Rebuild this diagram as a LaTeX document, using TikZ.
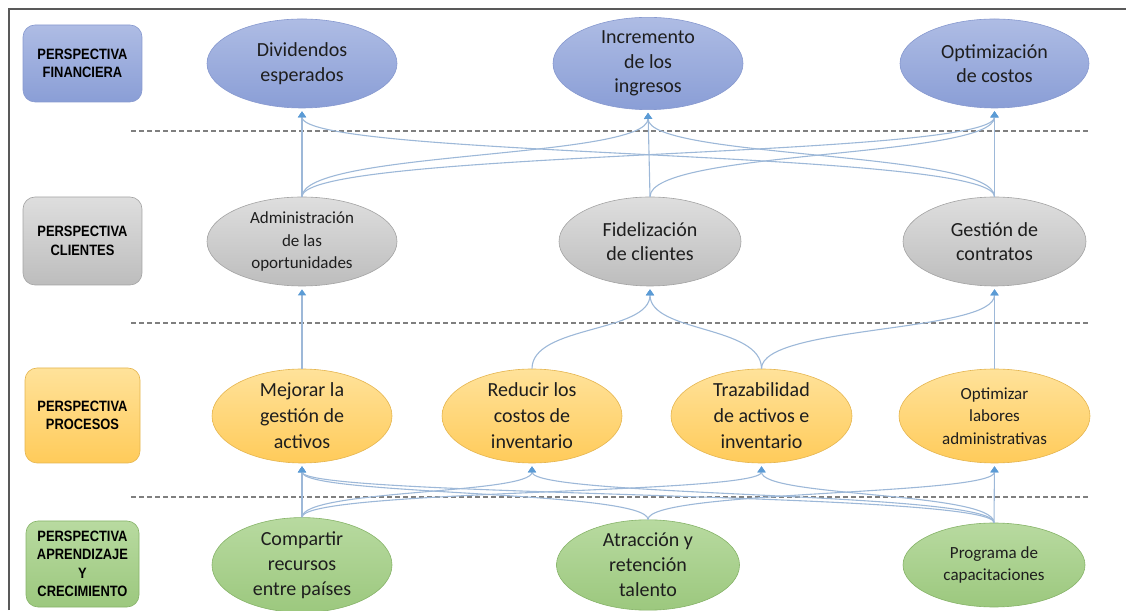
\documentclass[tikz,border=0pt]{standalone}
\usepackage{fontspec}
\setmainfont{Carlito}
\newfontfamily\tagfont[FakeStretch=0.86]{Liberation Sans}
\usetikzlibrary{shapes.geometric,arrows.meta,calc}

\definecolor{finTop}{HTML}{AEBCE4}
\definecolor{finBot}{HTML}{8A9ED6}
\definecolor{finLine}{HTML}{8799CF}
\definecolor{cliTop}{HTML}{DEDEDE}
\definecolor{cliBot}{HTML}{BDBDBD}
\definecolor{cliLine}{HTML}{A3A3A3}
\definecolor{proTop}{HTML}{FFE29A}
\definecolor{proBot}{HTML}{FFCB5A}
\definecolor{proLine}{HTML}{E5B54F}
\definecolor{aprTop}{HTML}{B8DAA0}
\definecolor{aprBot}{HTML}{9CC87E}
\definecolor{aprLine}{HTML}{86B368}
\definecolor{linkBlue}{HTML}{9DB8D8}
\definecolor{tipBlue}{HTML}{5B9BD5}
\definecolor{sepGray}{HTML}{7F7F7F}
\definecolor{frameGray}{HTML}{595959}
\definecolor{ink}{HTML}{1E1E1E}

% curved connector: leaves the source top vertically, runs flat halfway up,
% then climbs vertically into the bottom of the target
\newcommand\curvelink[2]{%
  \draw[link] let \p1=(#1.north), \p2=($(#2.south)+(0,-3)$),
    \n1={\y2-\y1} in
    (\p1) .. controls ($(\p1)+(0,{0.55*\n1})$) and ($(\p2)+(0,{-0.55*\n1})$) .. (\p2);}
\newcommand\straightlink[2]{%
  \draw[link, shorten >=3pt] (#1.north) -- (#2.south);}

\begin{document}
\begin{tikzpicture}[x=1pt,y=1pt,
  goal/.style={ellipse, draw, line width=0.6pt, inner sep=0pt, align=center, text=ink},
  fin/.style={goal, draw=finLine, top color=finTop, bottom color=finBot},
  cli/.style={goal, draw=cliLine, top color=cliTop, bottom color=cliBot},
  pro/.style={goal, draw=proLine, top color=proTop, bottom color=proBot},
  apr/.style={goal, draw=aprLine, top color=aprTop, bottom color=aprBot},
  tag/.style={rounded corners=12pt, draw, line width=0.6pt, inner sep=0pt, align=center,
    text=black, font=\tagfont\bfseries\fontsize{15}{18.5}\selectfont},
  big/.style={font=\fontsize{20}{24.5}\selectfont},
  bigtall/.style={font=\fontsize{20}{26}\selectfont},
  small/.style={font=\fontsize{17}{22.5}\selectfont},
  link/.style={draw=linkBlue, line width=1.1pt, -{Triangle[width=8pt,length=6pt,color=tipBlue]}},
  sep/.style={draw=sepGray, line width=1.8pt, dash pattern=on 5pt off 3pt},
]
\useasboundingbox (0,0) rectangle (1126,610);

% frame
\draw[frameGray, line width=1.3pt] (9,0) -- (9,601) -- (1126,601);

% separators between the perspectives
\draw[sep] (131,479) -- (1088,479);
\draw[sep] (131,287) -- (1088,287);
\draw[sep] (131,113) -- (1088,113);

% perspective tags
\node[tag, draw=finLine, top color=finTop, bottom color=finBot,
  minimum width=119pt, minimum height=77pt] (tFin) at (82.5,546.5) {PERSPECTIVA\\FINANCIERA};
\node[tag, draw=cliLine, top color=cliTop, bottom color=cliBot,
  minimum width=119pt, minimum height=88pt] (tCli) at (82.5,369) {PERSPECTIVA\\CLIENTES};
\node[tag, draw=proLine, top color=proTop, bottom color=proBot,
  minimum width=115pt, minimum height=95pt] (tPro) at (82.5,194.5) {PERSPECTIVA\\PROCESOS};
\node[tag, draw=aprLine, top color=aprTop, bottom color=aprBot,
  minimum width=113pt, minimum height=86pt] (tApr) at (82.5,46) {PERSPECTIVA\\APRENDIZAJE\\Y\\CRECIMIENTO};

% financial objectives
\node[fin, big, minimum width=190pt, minimum height=89pt] (div) at (302,546.5) {Dividendos\\esperados};
\node[fin, big, minimum width=190pt, minimum height=89pt] (inc) at (648,546.5) {Incremento\\de los\\ingresos};
\node[fin, big, minimum width=189pt, minimum height=89pt] (opt) at (994.5,546.5) {Optimización\\de costos};

% customer objectives
\node[cli, small, minimum width=190pt, minimum height=89pt] (adm) at (302,368.5) {Administración\\de las\\oportunidades};
\node[cli, big, minimum width=182pt, minimum height=89pt] (fid) at (650,368.5) {Fidelización\\de clientes};
\node[cli, big, minimum width=183pt, minimum height=89pt] (ges) at (994.5,368.5) {Gestión de\\contratos};

% process objectives
\node[pro, bigtall, minimum width=180pt, minimum height=94pt] (mej) at (302,194) {Mejorar la\\gestión de\\activos};
\node[pro, bigtall, minimum width=180pt, minimum height=94pt] (red) at (532,194) {Reducir los\\costos de\\inventario};
\node[pro, bigtall, minimum width=181pt, minimum height=94pt] (tra) at (761.5,194) {Trazabilidad\\de activos e\\inventario};
\node[pro, small, minimum width=191pt, minimum height=94pt] (optz) at (994.5,194) {Optimizar\\labores\\administrativas};

% learning and growth objectives
\node[apr, font=\fontsize{20}{25}\selectfont, minimum width=180pt, minimum height=84pt] (com) at (302,45) {Compartir\\recursos\\entre países};
\node[apr, font=\fontsize{20}{25}\selectfont, minimum width=183pt, minimum height=84pt] (atr) at (648,45) {Atracción y\\retención\\talento};
\node[apr, small, minimum width=182pt, minimum height=84pt] (prg) at (994,45) {Programa de\\capacitaciones};

% customers -> financial
\straightlink{adm}{div}
\curvelink{adm}{inc}
\curvelink{adm}{opt}
\straightlink{fid}{inc}
\curvelink{fid}{opt}
\straightlink{ges}{opt}
\curvelink{ges}{inc}
\curvelink{ges}{div}

% processes -> customers
\straightlink{mej}{adm}
\curvelink{red}{fid}
\curvelink{tra}{fid}
\curvelink{tra}{ges}
\straightlink{optz}{ges}

% learning and growth -> processes
\straightlink{com}{mej}
\curvelink{com}{red}
\curvelink{com}{tra}
\curvelink{atr}{mej}
\curvelink{atr}{optz}
\straightlink{prg}{optz}
\curvelink{prg}{mej}
\curvelink{prg}{red}
\curvelink{prg}{tra}
\end{tikzpicture}
\end{document}
